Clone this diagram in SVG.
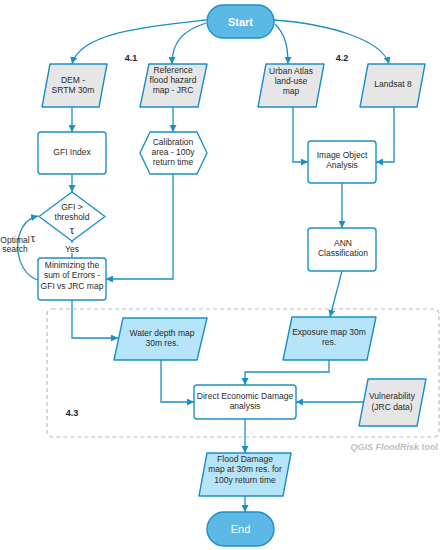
<svg xmlns="http://www.w3.org/2000/svg" width="442" height="550" viewBox="0 0 442 550">
<defs>
<marker id="ah" viewBox="0 0 10 10" refX="10" refY="5" markerWidth="7" markerHeight="7" markerUnits="userSpaceOnUse" orient="auto">
<path d="M0,0 L10,5 L0,10 Z" fill="#1b8fc6"/>
</marker>
<style>
.n{stroke:#1b8fc6;stroke-width:1.4;stroke-linejoin:round}
.w{fill:#ffffff}
.g{fill:#e6e6e6}
.b{fill:#b6e4f8}
.t{fill:#5cb8e5}
.c{fill:none;stroke:#1b8fc6;stroke-width:1.3;marker-end:url(#ah)}
.cl{fill:none;stroke:#1b8fc6;stroke-width:1.3}
text{font-family:"Liberation Sans",Arial,sans-serif;font-size:8.5px;fill:#2a2a2a;text-anchor:middle}
.st{font-size:11px;fill:#ffffff}
.lb{font-size:9px;font-weight:bold;fill:#222222}
.tau{font-family:"Liberation Serif","DejaVu Serif",serif;font-size:12px}
.q{font-size:9px;font-weight:bold;fill:#c0c0c0;text-anchor:end}
</style>
</defs>
<rect width="442" height="550" fill="#ffffff"/>

<rect x="47" y="309" width="392" height="128" rx="5" fill="none" stroke="#bdbdbd" stroke-width="1.2" stroke-dasharray="4 3"/>
<text class="q" x="438" y="450"><tspan font-style="italic">QGIS FloodRisk</tspan> tool</text>

<g id="connectors">
<path class="c" d="M206,20 C150,26 80,32 72,64"/>
<path class="c" d="M206,23 C185,30 172,40 172,64"/>
<path class="c" d="M275,24 C285,34 288,46 288,64"/>
<path class="c" d="M274,20 C330,24 382,40 389,64"/>
<path class="c" d="M72,107 V132"/>
<path class="c" d="M173,107 V132"/>
<path class="c" d="M72,174 V192"/>
<path class="cl" d="M72,241 V258"/>
<path class="c" d="M38,280 C12,272 10,222 38,216"/>
<path class="c" d="M173,174 V279 H106"/>
<path class="c" d="M72,300 V338 H118"/>
<path class="c" d="M293,107 V162 H308"/>
<path class="c" d="M394,107 V162 H376"/>
<path class="c" d="M342,183 V228"/>
<path class="c" d="M342,271 L330,317"/>
<path class="c" d="M161,360 V402 H194"/>
<path class="c" d="M329,360 V372 H245 V385"/>
<path class="c" d="M363,402 H296"/>
<path class="c" d="M245,419 V453"/>
<path class="c" d="M245,496 V512"/>
</g>

<g id="start">
<rect class="n t" x="207" y="5" width="67" height="33" rx="16.5"/>
<text class="st" x="240.5" y="25.5" font-weight="bold">Start</text>
</g>

<text class="lb" x="131" y="61">4.1</text>
<text class="lb" x="342" y="61">4.2</text>
<text class="lb" x="72" y="416">4.3</text>

<g id="dem">
<polygon class="n g" points="50,64 107,64 99,107 42,107"/>
<text x="73" y="83">DEM -</text>
<text x="73" y="93">SRTM 30m</text>
</g>

<g id="reference">
<polygon class="n g" points="149,64 207,64 198,107 140,107"/>
<text x="173" y="73">Reference</text>
<text x="173" y="83">flood hazard</text>
<text x="173" y="93">map - JRC</text>
</g>

<g id="urban">
<polygon class="n g" points="266,64 324,64 316,107 258,107"/>
<text x="291" y="74">Urban Atlas</text>
<text x="291" y="84">land-use</text>
<text x="291" y="94">map</text>
</g>

<g id="landsat">
<polygon class="n g" points="368,64 425,64 417,107 360,107"/>
<text x="393" y="87">Landsat 8</text>
</g>

<g id="gfi">
<rect class="n w" x="38" y="132" width="68" height="42" rx="3"/>
<text x="72" y="155">GFI Index</text>
</g>

<g id="calibration">
<polygon class="n w" points="140,153 150,132 197,132 207,153 197,174 150,174"/>
<text x="173" y="145">Calibration</text>
<text x="173" y="155">area - 100y</text>
<text x="173" y="165">return time</text>
</g>

<g id="threshold">
<polygon class="n w" points="72,192 105,216.5 72,241 39,216.5"/>
<text x="72" y="210">GFI &gt;</text>
<text x="72" y="220">threshold</text>
<text class="tau" x="72" y="234">τ</text>
</g>

<g id="yes">
<rect x="60" y="243" width="24" height="10" fill="#ffffff"/>
<text x="72" y="251.5">Yes</text>
</g>

<g id="optimal">
<text x="15" y="243">Optimal</text>
<text class="tau" x="33" y="242">τ</text>
<text x="15" y="252">search</text>
</g>

<g id="minimizing">
<rect class="n w" x="38" y="258" width="68" height="42" rx="3"/>
<text x="72" y="268">Minimizing the</text>
<text x="72" y="278">sum of Errors -</text>
<text x="72" y="289">GFI vs JRC map</text>
</g>

<g id="image-object">
<rect class="n w" x="308" y="141" width="68" height="42" rx="3"/>
<text x="342" y="158">Image Object</text>
<text x="342" y="168">Analysis</text>
</g>

<g id="ann">
<rect class="n w" x="308" y="228" width="68" height="43" rx="3"/>
<text x="343" y="246">ANN</text>
<text x="343" y="256">Classification</text>
</g>

<g id="water">
<polygon class="n b" points="123,318 207,318 197,360 114,360"/>
<text x="162" y="336">Water depth map</text>
<text x="162" y="346">30m res.</text>
</g>

<g id="exposure">
<polygon class="n b" points="292,317 376,317 367,360 283,360"/>
<text x="329" y="335">Exposure map 30m</text>
<text x="329" y="345">res.</text>
</g>

<g id="direct">
<rect class="n w" x="194" y="385" width="102" height="34" rx="3"/>
<text x="245" y="399">Direct Economic Damage</text>
<text x="245" y="409">analysis</text>
</g>

<g id="vulnerability">
<polygon class="n g" points="368,379 426,379 417,426 359,426"/>
<text x="392" y="399">Vulnerability</text>
<text x="392" y="410">(JRC data)</text>
</g>

<g id="flood-damage">
<polygon class="n b" points="207,453 291,453 283,496 199,496"/>
<text x="245" y="462">Flood Damage</text>
<text x="245" y="472">map at 30m res. for</text>
<text x="245" y="483">100y return time</text>
</g>

<g id="end">
<rect class="n t" x="207" y="512" width="67" height="34" rx="17"/>
<text class="st" x="240.5" y="532.5">End</text>
</g>
</svg>
